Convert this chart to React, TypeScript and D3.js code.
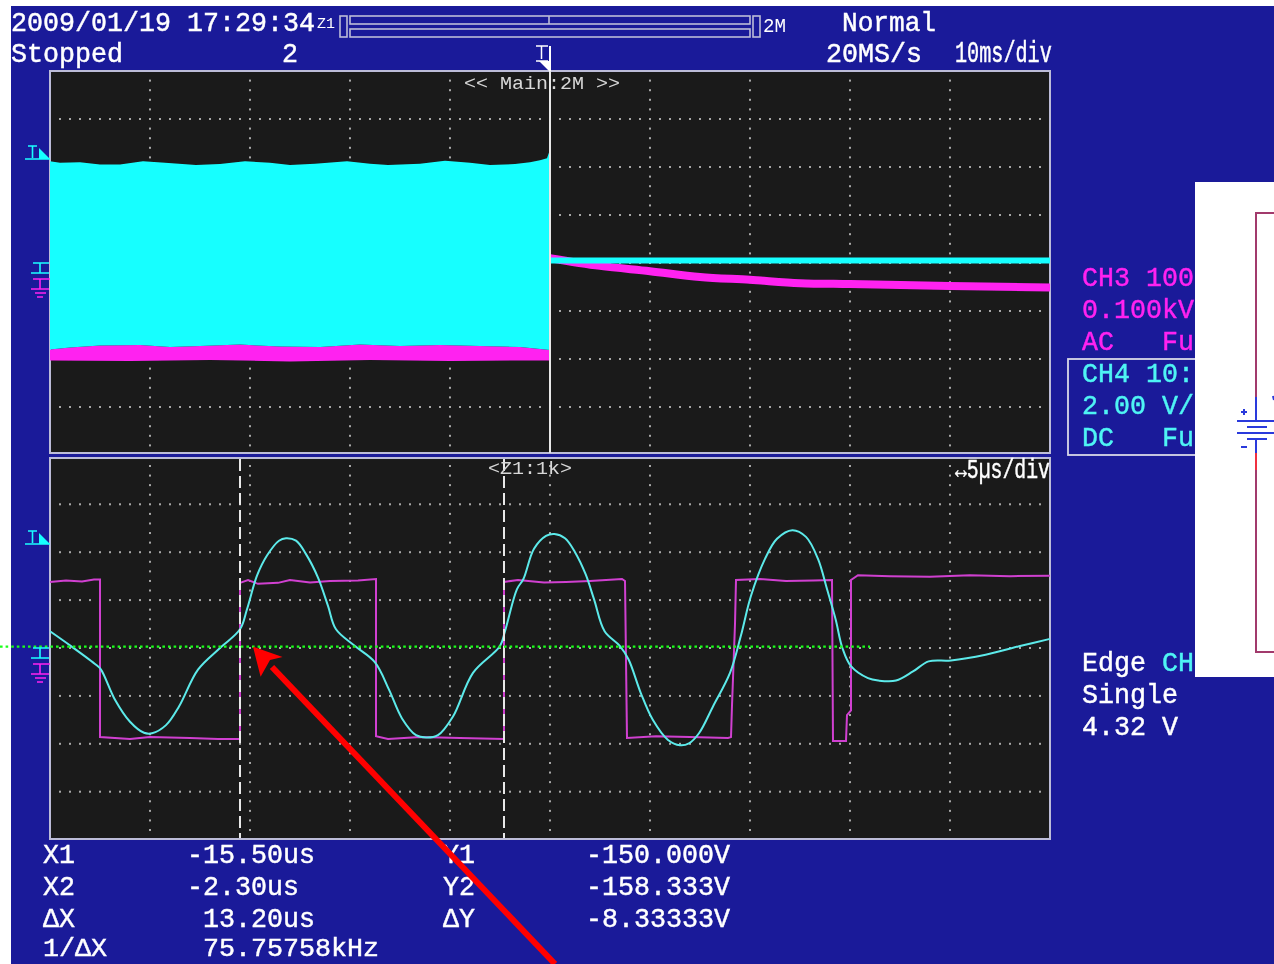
import React from "react";
import * as d3 from "d3";

type P = [number, number];

// ---- Zoom window (5 us/div, CH4 / CH3 in divisions) ----
const ch4Zoom: P[] = [
  [-25, 0.35], [-23.95, 0.04], [-22.7, -0.35], [-22.45, -0.45], [-21.75, -1.08], [-21, -1.54], [-20.3, -1.77], [-19.9, -1.78],
  [-19.2, -1.61], [-18.55, -1.22], [-17.6, -0.45], [-16.5, 0], [-15.5, 0.39], [-15.15, 0.81], [-14.65, 1.51], [-14.15, 1.93],
  [-13.55, 2.24], [-13.2, 2.29], [-12.7, 2.24], [-12.2, 1.96], [-11.6, 1.47], [-11.1, 0.88], [-10.7, 0.39], [-9.75, 0.04],
  [-8.75, -0.3], [-8.05, -0.87], [-7.4, -1.47], [-6.7, -1.82], [-6.2, -1.87], [-5.6, -1.82], [-4.85, -1.43], [-3.85, -0.52],
  [-2.5, 0.04], [-2.25, 0.35], [-1.65, 1.23], [-1.33, 1.44], [-0.8, 2.07], [-0.2, 2.34], [0.22, 2.38], [0.75, 2.29],
  [1.25, 2], [1.78, 1.54], [2.2, 1.02], [2.73, 0.35], [3.5, 0.04], [3.93, -0.24], [4.54, -0.94], [5.14, -1.5],
  [5.9, -1.92], [6.5, -2.03], [6.95, -1.99], [7.45, -1.78], [8.15, -1.22], [9, -0.52], [9.54, 0.25], [10.05, 1.09],
  [10.75, 1.86], [11.35, 2.28], [12.12, 2.46], [12.8, 2.32], [13.4, 1.86], [13.85, 1.23], [14.28, 0.6], [14.62, 0],
  [15.05, -0.38], [15.9, -0.63], [16.43, -0.68], [17.3, -0.68], [18.15, -0.49], [18.93, -0.28], [20.05, -0.26], [21.78, -0.14],
  [23.5, 0.04], [25, 0.19],
];
const ch3Zoom: P[] = [
  [-25, 1.38], [-24.2, 1.41], [-23.4, 1.39], [-22.8, 1.43], [-22.5, 1.43], [-22.5, -1.86], [-21, -1.9], [-20, -1.86],
  [-18, -1.88], [-16.6, -1.9], [-15.5, -1.9], [-15.5, 1.36], [-15.1, 1.42], [-14.6, 1.34], [-13.6, 1.36], [-13, 1.42],
  [-12, 1.37], [-11, 1.4], [-9.6, 1.41], [-8.7, 1.44], [-8.7, -1.84], [-8.1, -1.9], [-6.5, -1.86], [-4.5, -1.88],
  [-2.3, -1.9], [-2.3, 1.38], [-1.6, 1.42], [-0.3, 1.37], [0.8, 1.38], [2, 1.4], [3.6, 1.44], [3.75, 1.4],
  [3.85, -1.88], [5.3, -1.84], [7, -1.86], [8.9, -1.88], [9.05, -1.86], [9.1, -1.2], [9.25, 0.5], [9.3, 1.42],
  [10.5, 1.44], [11.8, 1.4], [13.2, 1.41], [14.1, 1.42], [14.15, -1.94], [14.8, -1.94], [14.85, -1.4], [15.05, -1.3],
  [15.05, 1.42], [15.4, 1.52], [17, 1.5], [19, 1.49], [21, 1.52], [23, 1.5], [25, 1.51],
];

// ---- Main window (10 ms/div) ----
const ch4EnvelopeTop: P[] = [
  [-50, 2.12], [-49, 2.09], [-47, 2.10], [-45, 2.05], [-43, 2.05], [-40.7, 2.12], [-38.5, 2.09], [-35.4, 2.04], [-33, 2.06],
  [-30.5, 2.12], [-28, 2.09], [-26, 2.04], [-23.5, 2.07], [-20.3, 2.12], [-18, 2.07], [-16.2, 2.04], [-13, 2.07], [-10.5, 2.13],
  [-8, 2.09], [-6, 2.04], [-3.5, 2.06], [-2, 2.10], [-1, 2.14], [-0.3, 2.18], [-0.1, 2.30], [0, 2.30],
];
const ch3EnvelopeTop: P[] = [
  [-50, -1.8], [-48, -1.76], [-45, -1.72], [-41, -1.71], [-38, -1.75], [-35, -1.73], [-31, -1.7], [-27, -1.74], [-23, -1.75],
  [-19, -1.7], [-15, -1.73], [-11, -1.71], [-7, -1.73], [-3, -1.75], [-1, -1.79], [0, -1.81],
];
const ch3EnvelopeBottom: P[] = [
  [-50, -2.03], [-42, -2.04], [-34, -2.02], [-26, -2.05], [-18, -2.02], [-10, -2.04], [-2, -2.03], [0, -2.03],
];
const ch3Decay: P[] = [
  [0, 0.1], [5, -0.06], [10, -0.17], [15, -0.29], [20, -0.35], [25, -0.42], [30, -0.44], [40, -0.48], [50, -0.51],
];
const ch4Decay: P[] = [[0, 0.05], [50, 0.05]];

// ---- Cursors and reference ----
const cursorTimes = [-15.5, -2.3];
const greenLevel = 0.03;

// ---- Texts ----
const timestampText = "2009/01/19 17:29:34";
const statusText = "Stopped";
const averagingText = "2";
const modeText = "Normal";
const sampleRateText = "20MS/s";
const timeDivText = "10ms/div";
const mainLabel = "<< Main:2M >>";
const zoomLabel = "<Z1:1k>";
const zoomDivText = "\u21945\u00b5s/div";
const ch3Lines = ["CH3 100:1", "0.100kV/div", "AC   Full"];
const ch4Lines = ["CH4 10:1", "2.00 V/div", "DC   Full"];
const trigWord = "Edge";
const trigSource = "CH4";
const trigLines = ["Single", "4.32 V"];
const cursorNames = ["X1", "X2", "\u0394X", "1/\u0394X"];
const cursorValues = ["-15.50us", "-2.30us", "13.20us", "75.75758kHz"];
const cursorValueOffsets = [0, 0, 1, 1];
const levelNames = ["Y1", "Y2", "\u0394Y"];
const levelValues = ["-150.000V", "-158.333V", "-8.33333V"];

// ---- Colours ----
const BLUE = "#1a1a99";
const SCREEN = "#1a1a1a";
const FRAME = "#bcbcd8";
const CYAN = "#19ffff";
const TRACE_CYAN = "#5ceaea";
const MAGENTA = "#ff22f0";
const TRACE_MAGENTA = "#d040d0";
const GRID = "#a8a8a8";
const FONT = "'Liberation Mono', 'DejaVu Sans Mono', monospace";

const CW = 16;
const Txt = ({ x, y, s, fill = "#fff", cw = CW, size = 27, bold = 0.45 }: any) => (
  <text x={x} y={y} fill={fill} stroke={fill} strokeWidth={bold} fontFamily={FONT} fontSize={size} textLength={s.length * cw} lengthAdjust="spacingAndGlyphs" xmlSpace="preserve">
    {s}
  </text>
);

const panelX = [50, 1050];

function Grid({ x, y, top, bottom }: { x: any; y: any; top: number; bottom: number }) {
  const [d0, d1] = x.domain();
  const span = (d1 - d0) / 10;
  const cols = d3.range(1, 10).map((i) => d0 + i * span);
  const rows = d3.range(-3, 4);
  const rowDots = d3.range(1, 100).map((i) => d0 + (i * span) / 10);
  const colDots = d3.range(-20, 21).map((i) => i / 5).filter((v) => Math.abs(v - Math.round(v)) > 0.01);
  return (
    <g fill={GRID}>
      {rows.map((r) => rowDots.map((t) => <rect key={`${r}:${t}`} x={x(t) - 1} y={y(r) - 1} width={2} height={2} />))}
      {cols.map((c) =>
        colDots
          .filter((v) => y(v) > top + 3 && y(v) < bottom - 1)
          .map((v) => <rect key={`${c}:${v}`} x={x(c) - 1} y={y(v) - 1} width={2} height={2} />),
      )}
    </g>
  );
}

const Marker = ({ dy }: { dy: number }) => (
  <g transform={`translate(0,${dy})`}>
    <g stroke={CYAN} strokeWidth={1.6} fill="none">
      <path d="M28 146H37M32.5 146V158M25 159H50" />
      <path d="M33 263H49M40 263V273M31 273H49" />
    </g>
    <path d="M39 148L50 159H39Z" fill={CYAN} />
    <g stroke={MAGENTA} strokeWidth={1.6} fill="none">
      <path d="M33 279H50M40 279V289M31 289H49M35 293H46M37 297H43" />
    </g>
  </g>
);

export default function App() {
  const xMain = d3.scaleLinear().domain([-50, 50]).range(panelX);
  const yMain = d3.scaleLinear().domain([-4, 4]).range([455, 71]);
  const xZoom = d3.scaleLinear().domain([-25, 25]).range(panelX);
  const yZoom = d3.scaleLinear().domain([-4, 4]).range([839.6, 456.4]);

  const lineM = d3.line<P>().x((d) => xMain(d[0])).y((d) => yMain(d[1]));
  const smoothM = d3.line<P>().x((d) => xMain(d[0])).y((d) => yMain(d[1])).curve(d3.curveMonotoneX);
  const lineZ = d3.line<P>().x((d) => xZoom(d[0])).y((d) => yZoom(d[1]));
  const curveZ = d3.line<P>().x((d) => xZoom(d[0])).y((d) => yZoom(d[1])).curve(d3.curveCatmullRom.alpha(0.5));
  const bandPath = (top: P[], bottom: P[]) => `${lineM(top)}L${lineM([...bottom].reverse())!.slice(1)}Z`;

  return (
    <svg width={1274} height={964} style={{ position: "absolute", left: 0, top: 0, background: "#fff" }}>
      <defs>
        <filter id="soft" x="-2%" y="-2%" width="104%" height="104%">
          <feGaussianBlur stdDeviation={0.5} />
        </filter>
        <filter id="softer" x="-2%" y="-2%" width="104%" height="104%">
          <feGaussianBlur stdDeviation={0.35} />
        </filter>
      </defs>
      <rect x={11} y={6} width={1263} height={958} fill={BLUE} />

      {/* screens */}
      <rect x={50} y={71} width={1000} height={382} fill={SCREEN} stroke={FRAME} strokeWidth={2} />
      <rect x={50} y={458} width={1000} height={381} fill={SCREEN} stroke={FRAME} strokeWidth={2} />

      <g filter="url(#softer)">
        <Grid x={xMain} y={yMain} top={71} bottom={453} />
        <Grid x={xZoom} y={yZoom} top={458} bottom={839} />
      </g>

      {/* main window traces */}
      <g filter="url(#softer)">
        <path d={bandPath(ch3EnvelopeTop, ch3EnvelopeBottom)} fill={MAGENTA} />
        <path d={bandPath(ch4EnvelopeTop, ch3EnvelopeTop)} fill={CYAN} />
        <path d={smoothM(ch3Decay)!} fill="none" stroke={MAGENTA} strokeWidth={8} />
        <path d={lineM(ch4Decay)!} fill="none" stroke={CYAN} strokeWidth={6} />
      </g>
      <line x1={xMain(0)} x2={xMain(0)} y1={71} y2={453} stroke="#e8e8e8" strokeWidth={2} />

      {/* zoom window traces */}
      <g filter="url(#softer)">
        <path d={lineZ(ch3Zoom)!} fill="none" stroke={TRACE_MAGENTA} strokeWidth={2} />
        <path d={curveZ(ch4Zoom)!} fill="none" stroke={TRACE_CYAN} strokeWidth={2} />
      </g>

      {cursorTimes.map((t) => (
        <line key={t} x1={xZoom(t)} x2={xZoom(t)} y1={459} y2={838} stroke="#e8e8e8" strokeWidth={2} strokeDasharray="12 5" />
      ))}

      {/* reference level */}
      <line x1={0} x2={xZoom(16)} y1={yZoom(greenLevel)} y2={yZoom(greenLevel)} stroke="#1aff1a" strokeWidth={2.2} strokeDasharray="2.6 3" />

      <g filter="url(#soft)">
        <Marker dy={0} />
        <Marker dy={385} />

        {/* header */}
        <Txt x={11} y={31} s={timestampText} />
        <Txt x={11} y={62} s={statusText} />
        <Txt x={282} y={62} s={averagingText} />
        <Txt x={826} y={62} s={sampleRateText} />
        <Txt x={842} y={31} s={modeText} cw={94 / 6} />
        <Txt x={955} y={62} s={timeDivText} cw={12.1} size={29} />
        <Txt x={317} y={28} s="Z1" cw={9} size={14} bold={0} />
        <Txt x={763} y={32} s="2M" cw={11.5} size={20} bold={0} />

        <g fill="none" stroke={FRAME} strokeWidth={1.6}>
          <rect x={340} y={16} width={7} height={21} />
          <rect x={350} y={16} width={400} height={8} />
          <rect x={350} y={29} width={400} height={8} />
          <rect x={753} y={16} width={7} height={21} />
          <line x1={549} x2={549} y1={16} y2={24} />
        </g>

        <g fill="#fff" stroke="#fff">
          <line x1={550} x2={550} y1={46} y2={71} strokeWidth={2} />
          <path d="M536 46H548M541.5 46V59M536 61H548" fill="none" strokeWidth={1.5} />
          <path d="M539 61H550V72Z" stroke="none" />
        </g>

        <Txt x={464} y={89} s={mainLabel} cw={12} size={19} fill="#d8d8d8" bold={0} />
        <Txt x={488} y={474} s={zoomLabel} cw={12} size={19} fill="#d8d8d8" bold={0} />
        <Txt x={955} y={478} s={zoomDivText} cw={95 / 8} size={27} />

        {/* channels */}
        {ch3Lines.map((s, i) => (
          <Txt key={s} x={1082} y={286 + i * 32} s={s} fill={MAGENTA} />
        ))}
        <rect x={1068} y={359} width={160} height={96} fill="none" stroke="#d8d8e8" strokeWidth={1.8} />
        {ch4Lines.map((s, i) => (
          <Txt key={s} x={1082} y={382 + i * 32} s={s} fill="#4ff4f4" />
        ))}

        {/* trigger */}
        <Txt x={1082} y={671} s={trigWord} />
        <Txt x={1162} y={671} s={trigSource} fill="#4ff4f4" />
        {trigLines.map((s, i) => (
          <Txt key={s} x={1082} y={703 + i * 32} s={s} />
        ))}

        {/* cursor table */}
        {cursorNames.map((s, i) => (
          <Txt key={s} x={43} y={i === 3 ? 956 : 863 + i * 32} s={s} size={i === 3 ? 25 : 27} />
        ))}
        {cursorValues.map((s, i) => (
          <Txt key={s} x={187 + cursorValueOffsets[i] * 16} y={i === 3 ? 956 : 863 + i * 32} s={s} size={i === 3 ? 25 : 27} />
        ))}
        {levelNames.map((s, i) => (
          <Txt key={s} x={443} y={863 + i * 32} s={s} />
        ))}
        {levelValues.map((s, i) => (
          <Txt key={s} x={586} y={863 + i * 32} s={s} />
        ))}
      </g>

      {/* annotation arrow */}
      <line x1={272} y1={667} x2={555} y2={964} stroke="#ff0000" strokeWidth={6} />
      <path d="M253 646.7L282.6 657L270 660L260.6 676.7Z" fill="#ff0000" />

      {/* pasted circuit fragment */}
      <rect x={1195} y={182} width={79} height={495} fill="#fff" />
      <g fill="none" strokeWidth={2}>
        <path d="M1274 213H1256V397" stroke="#a23a6c" />
        <path d="M1256 470V652H1274" stroke="#a23a6c" />
        <path d="M1256 397V421M1256 439V453" stroke="#2a3adc" />
        <path d="M1256 453V470" stroke="#f03040" />
        <path d="M1237 421H1274M1247 427H1267M1237 433H1274M1247 439H1267M1241 412H1247M1244 409V415M1241 447H1247" stroke="#2a3adc" />
        <path d="M1273 396L1274 400" stroke="#2a3adc" />
      </g>
    </svg>
  );
}
